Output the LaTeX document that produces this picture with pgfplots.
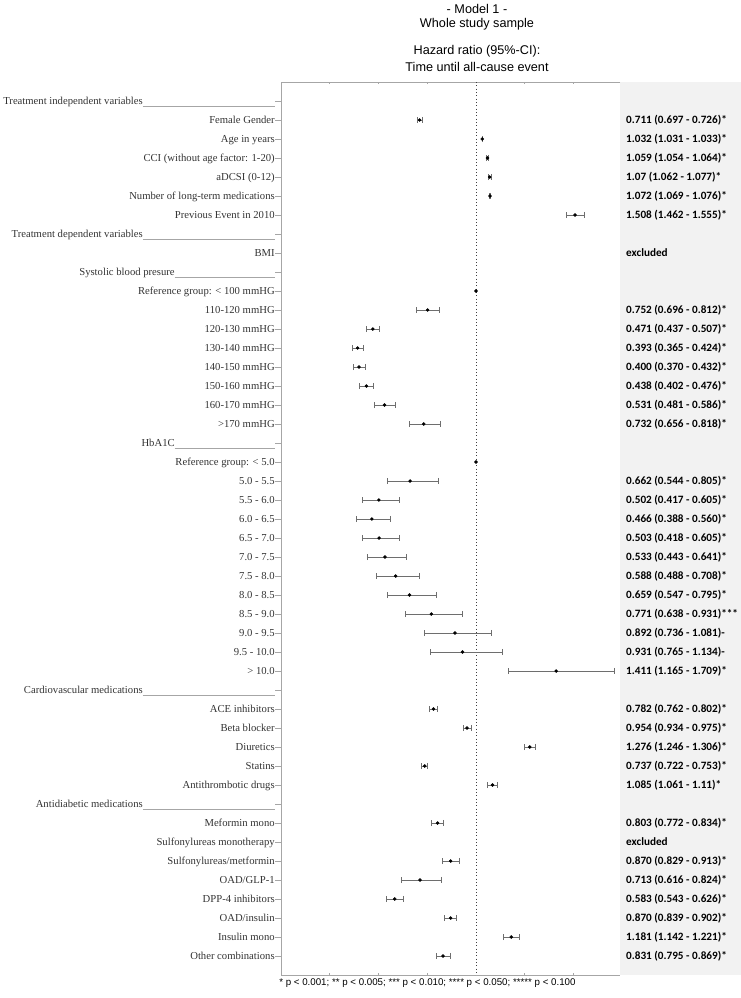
\documentclass[border=0pt]{standalone}
\usepackage{pgfplots}
\usepackage{pgfplotstable}
\pgfplotsset{compat=1.18}
\usepackage{fontspec}
\setmainfont{Liberation Serif}
\newfontfamily\sansf{Liberation Sans}
\newfontfamily\calib{Carlito}
\definecolor{boxgrey}{HTML}{F2F2F2}
\definecolor{axgrey}{HTML}{A6A6A6}
\definecolor{ebgrey}{HTML}{6E6E6E}
\newcommand{\hdrA}[1]{#1{\color{axgrey}\rule[-1.4pt]{99pt}{0.5pt}}}
\newcommand{\hdrB}[1]{#1{\color{axgrey}\rule[-1.4pt]{75pt}{0.5pt}}}

\pgfplotstableread{
row hr lo hi
2 0.711 0.697 0.726
3 1.032 1.031 1.033
4 1.059 1.054 1.064
5 1.07 1.062 1.077
6 1.072 1.069 1.076
7 1.508 1.462 1.555
12 0.752 0.696 0.812
13 0.471 0.437 0.507
14 0.393 0.365 0.424
15 0.400 0.370 0.432
16 0.438 0.402 0.476
17 0.531 0.481 0.586
18 0.732 0.656 0.818
21 0.662 0.544 0.805
22 0.502 0.417 0.605
23 0.466 0.388 0.560
24 0.503 0.418 0.605
25 0.533 0.443 0.641
26 0.588 0.488 0.708
27 0.659 0.547 0.795
28 0.771 0.638 0.931
29 0.892 0.736 1.081
30 0.931 0.765 1.134
31 1.411 1.165 1.709
33 0.782 0.762 0.802
34 0.954 0.934 0.975
35 1.276 1.246 1.306
36 0.737 0.722 0.753
37 1.085 1.061 1.11
39 0.803 0.772 0.834
41 0.870 0.829 0.913
42 0.713 0.616 0.824
43 0.583 0.543 0.626
44 0.870 0.839 0.902
45 1.181 1.142 1.221
46 0.831 0.795 0.869
}\hrtable

\begin{document}
\begin{tikzpicture}
\path[use as bounding box] (0,0) rectangle (555pt,-748.5pt);
% titles
\begin{scope}[font=\sansf\fontsize{9.5}{11}\selectfont]
\node[anchor=center] at (357.75pt,-6.5pt) {- Model 1 -};
\node[anchor=center] at (357.75pt,-18.5pt) {Whole study sample};
\node[anchor=center] at (357.75pt,-38.5pt) {Hazard ratio (95\%-CI):};
\node[anchor=center] at (357.75pt,-50.5pt) {Time until all-cause event};
\end{scope}
\node[anchor=west, inner sep=0pt, font=\sansf\fontsize{7.3}{9}\selectfont] at (209.25pt,-737.25pt)
  {* p < 0.001; ** p < 0.005; *** p < 0.010; **** p < 0.050; ***** p < 0.100};

\begin{axis}[
  at={(210.75pt,-61.5pt)}, anchor=north west,
  scale only axis, width=254.25pt, height=669.75pt,
  xmin=0, xmax=1.7385, ymin=0, ymax=47, y dir=reverse,
  clip=false,
  axis line style={draw=none},
  xtick=\empty,
  ytick={1,...,46},
  ytick pos=left,
  tick align=outside, major tick length=4.5pt,
  y tick style={axgrey, line width=0.5pt},
  yticklabel style={font=\fontsize{8}{9.6}\selectfont, text=black!80, anchor=east, inner sep=0pt, text height=1.5ex, text depth=0.3ex},
  yticklabels={
    {\hdrA{Treatment independent variables}},
    {Female Gender},
    {Age in years},
    {CCI (without age factor: 1-20)},
    {aDCSI (0-12)},
    {Number of long-term medications},
    {Previous Event in 2010},
    {\hdrA{Treatment dependent variables}},
    {BMI},
    {\hdrB{Systolic blood presure}},
    {Reference group: < 100 mmHG},
    {110-120 mmHG},
    {120-130 mmHG},
    {130-140 mmHG},
    {140-150 mmHG},
    {150-160 mmHG},
    {160-170 mmHG},
    {>170 mmHG},
    {\hdrB{HbA1C}},
    {Reference group: < 5.0},
    {5.0 - 5.5},
    {5.5 - 6.0},
    {6.0 - 6.5},
    {6.5 - 7.0},
    {7.0 - 7.5},
    {7.5 - 8.0},
    {8.0 - 8.5},
    {8.5 - 9.0},
    {9.0 - 9.5},
    {9.5 - 10.0},
    {> 10.0},
    {\hdrA{Cardiovascular medications}},
    {ACE inhibitors},
    {Beta blocker},
    {Diuretics},
    {Statins},
    {Antithrombotic drugs},
    {\hdrA{Antidiabetic medications}},
    {Meformin mono},
    {Sulfonylureas monotherapy},
    {Sulfonylureas/metformin},
    {OAD/GLP-1},
    {DPP-4 inhibitors},
    {OAD/insulin},
    {Insulin mono},
    {Other combinations}
  },
]
% grey result column
\fill[boxgrey] (axis cs:1.7385,0) rectangle (axis cs:2.36,47);
% axis lines (left, top, bottom)
\draw[axgrey, line width=0.5pt] (axis cs:1.7385,0) -- (axis cs:0,0) -- (axis cs:0,47) -- (axis cs:1.7385,47);
% x ticks
\pgfplotsinvokeforeach{0.25,0.5,0.75,1.25,1.5}{
  \draw[axgrey, line width=0.5pt] (axis cs:#1,0) -- ++(0,-1.5pt);
  \draw[axgrey, line width=0.5pt] (axis cs:#1,47) -- ++(0,1.5pt);
}
% reference line
\draw[black!75, dotted, line width=0.5pt] (axis cs:1,0) -- (axis cs:1,47);

\addplot[only marks, mark=*, mark size=1.1pt, black,
  error bars/.cd, x dir=both, x explicit,
  error bar style={ebgrey, line width=0.6pt},
  error mark options={ebgrey, rotate=90, mark size=2.4pt, line width=0.6pt}]
  table[x=hr, y=row,
        x error plus expr=\thisrow{hi}-\thisrow{hr},
        x error minus expr=\thisrow{hr}-\thisrow{lo}] {\hrtable};

\addplot[only marks, mark=*, mark size=1.2pt, black] coordinates {(1,11) (1,20)};

% result texts
\begin{scope}[every node/.style={anchor=west, inner sep=0pt, font=\calib\bfseries\fontsize{8.4}{10}\selectfont}]
\node at (axis cs:1.769,2) {0.711 (0.697 - 0.726)*};
\node at (axis cs:1.769,3) {1.032 (1.031 - 1.033)*};
\node at (axis cs:1.769,4) {1.059 (1.054 - 1.064)*};
\node at (axis cs:1.769,5) {1.07 (1.062 - 1.077)*};
\node at (axis cs:1.769,6) {1.072 (1.069 - 1.076)*};
\node at (axis cs:1.769,7) {1.508 (1.462 - 1.555)*};
\node at (axis cs:1.769,9) {excluded};
\node at (axis cs:1.769,12) {0.752 (0.696 - 0.812)*};
\node at (axis cs:1.769,13) {0.471 (0.437 - 0.507)*};
\node at (axis cs:1.769,14) {0.393 (0.365 - 0.424)*};
\node at (axis cs:1.769,15) {0.400 (0.370 - 0.432)*};
\node at (axis cs:1.769,16) {0.438 (0.402 - 0.476)*};
\node at (axis cs:1.769,17) {0.531 (0.481 - 0.586)*};
\node at (axis cs:1.769,18) {0.732 (0.656 - 0.818)*};
\node at (axis cs:1.769,21) {0.662 (0.544 - 0.805)*};
\node at (axis cs:1.769,22) {0.502 (0.417 - 0.605)*};
\node at (axis cs:1.769,23) {0.466 (0.388 - 0.560)*};
\node at (axis cs:1.769,24) {0.503 (0.418 - 0.605)*};
\node at (axis cs:1.769,25) {0.533 (0.443 - 0.641)*};
\node at (axis cs:1.769,26) {0.588 (0.488 - 0.708)*};
\node at (axis cs:1.769,27) {0.659 (0.547 - 0.795)*};
\node at (axis cs:1.769,28) {0.771 (0.638 - 0.931)***};
\node at (axis cs:1.769,29) {0.892 (0.736 - 1.081)-};
\node at (axis cs:1.769,30) {0.931 (0.765 - 1.134)-};
\node at (axis cs:1.769,31) {1.411 (1.165 - 1.709)*};
\node at (axis cs:1.769,33) {0.782 (0.762 - 0.802)*};
\node at (axis cs:1.769,34) {0.954 (0.934 - 0.975)*};
\node at (axis cs:1.769,35) {1.276 (1.246 - 1.306)*};
\node at (axis cs:1.769,36) {0.737 (0.722 - 0.753)*};
\node at (axis cs:1.769,37) {1.085 (1.061 - 1.11)*};
\node at (axis cs:1.769,39) {0.803 (0.772 - 0.834)*};
\node at (axis cs:1.769,40) {excluded};
\node at (axis cs:1.769,41) {0.870 (0.829 - 0.913)*};
\node at (axis cs:1.769,42) {0.713 (0.616 - 0.824)*};
\node at (axis cs:1.769,43) {0.583 (0.543 - 0.626)*};
\node at (axis cs:1.769,44) {0.870 (0.839 - 0.902)*};
\node at (axis cs:1.769,45) {1.181 (1.142 - 1.221)*};
\node at (axis cs:1.769,46) {0.831 (0.795 - 0.869)*};
\end{scope}
\end{axis}
\end{tikzpicture}
\end{document}
